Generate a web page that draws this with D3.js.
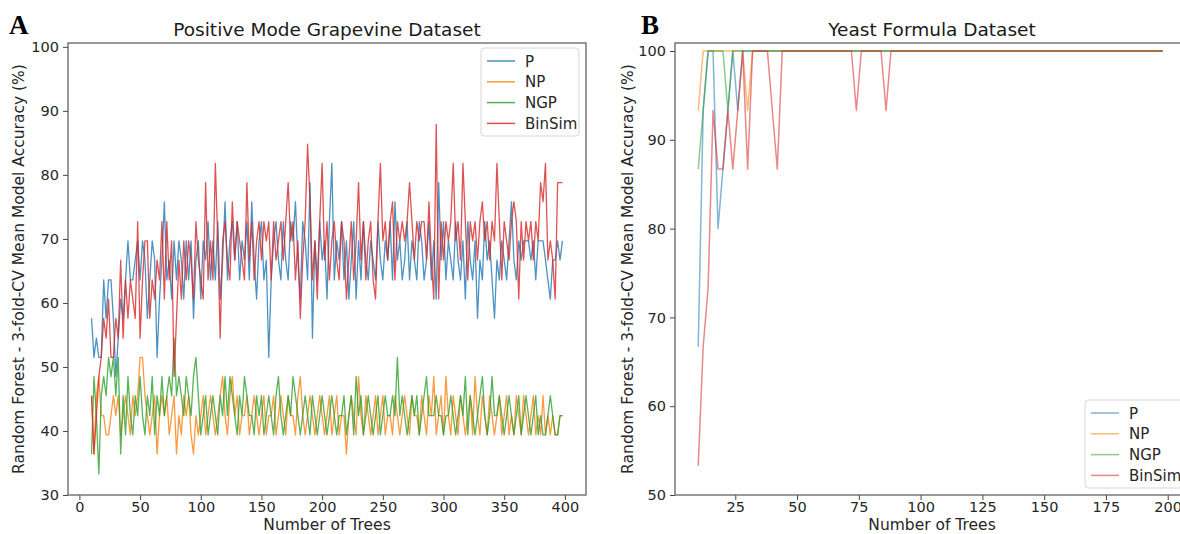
<!DOCTYPE html>
<html><head><meta charset="utf-8">
<script src="https://cdn.jsdelivr.net/npm/d3@7"></script>
<style>body{margin:0;background:#fff}svg{display:block}</style>
</head><body>
<svg id="c" width="1180" height="534"></svg>
<script>
const seriesNames = ["P","NP","NGP","BinSim"];
const colors = ["#1f77b4","#ff7f0e","#2ca02c","#d62728"];

// Panel A: Positive Mode Grapevine Dataset, trees 10..398 step 2
const treesA = [];
for (let t = 10; t <= 398; t += 2) treesA.push(t);
const A_P = [
57.6,51.5,54.5,51.5,51.5,63.6,57.6,63.6,63.6,57.6,
48.5,54.5,60.6,57.6,63.6,69.7,63.6,63.6,66.7,69.7,
63.6,69.7,66.7,57.6,63.6,69.7,66.7,51.5,60.6,66.7,
75.8,63.6,66.7,60.6,69.7,63.6,69.7,66.7,60.6,69.7,
63.6,69.7,57.6,66.7,69.7,60.6,69.7,66.7,72.7,63.6,
69.7,63.6,72.7,60.6,66.7,75.8,63.6,69.7,72.7,66.7,
72.7,63.6,69.7,66.7,72.7,63.6,75.8,66.7,60.6,69.7,
72.7,63.6,66.7,51.5,63.6,69.7,72.7,66.7,63.6,72.7,
66.7,63.6,72.7,69.7,75.8,66.7,60.6,72.7,69.7,63.6,
78.8,54.5,69.7,63.6,72.7,66.7,69.7,60.6,72.7,81.8,
63.6,69.7,66.7,72.7,63.6,69.7,60.6,66.7,72.7,60.6,
69.7,63.6,72.7,66.7,63.6,69.7,66.7,63.6,72.7,66.7,
63.6,69.7,66.7,72.7,63.6,75.8,66.7,69.7,63.6,66.7,
72.7,63.6,69.7,66.7,63.6,72.7,69.7,63.6,66.7,72.7,
63.6,69.7,60.6,78.8,66.7,72.7,63.6,69.7,66.7,63.6,
72.7,66.7,63.6,69.7,60.6,72.7,66.7,63.6,69.7,57.6,
66.7,63.6,72.7,66.7,69.7,63.6,57.6,66.7,63.6,69.7,
66.7,63.6,69.7,75.8,66.7,63.6,69.7,66.7,69.7,69.7,
69.7,66.7,69.7,63.6,69.7,69.7,69.7,66.7,63.6,60.6,
66.7,66.7,69.7,66.7,69.7];
const A_NP = [
45.5,36.4,45.5,48.5,42.4,42.4,39.4,39.4,42.4,45.5,
42.4,45.5,39.4,42.4,45.5,42.4,39.4,45.5,42.4,45.5,
51.5,51.5,45.5,42.4,39.4,42.4,45.5,36.4,42.4,45.5,
42.4,45.5,39.4,42.4,45.5,36.4,42.4,39.4,45.5,42.4,
45.5,39.4,36.4,42.4,39.4,42.4,45.5,39.4,42.4,45.5,
42.4,39.4,42.4,45.5,48.5,42.4,39.4,45.5,48.5,42.4,
45.5,39.4,42.4,42.4,45.5,39.4,42.4,45.5,42.4,39.4,
42.4,45.5,39.4,42.4,42.4,45.5,39.4,42.4,45.5,42.4,
39.4,45.5,42.4,42.4,39.4,45.5,48.5,42.4,39.4,42.4,
45.5,42.4,39.4,42.4,45.5,42.4,39.4,42.4,45.5,39.4,
42.4,45.5,39.4,42.4,42.4,36.4,42.4,45.5,42.4,39.4,
48.5,42.4,39.4,45.5,42.4,39.4,42.4,45.5,39.4,42.4,
45.5,39.4,42.4,42.4,39.4,45.5,42.4,39.4,42.4,45.5,
42.4,39.4,45.5,42.4,42.4,39.4,45.5,42.4,39.4,45.5,
42.4,48.5,39.4,42.4,45.5,39.4,48.5,42.4,39.4,45.5,
42.4,39.4,45.5,42.4,39.4,42.4,45.5,39.4,48.5,42.4,
39.4,45.5,42.4,39.4,45.5,42.4,39.4,42.4,45.5,39.4,
42.4,45.5,39.4,42.4,39.4,45.5,42.4,39.4,45.5,42.4,
39.4,42.4,45.5,39.4,42.4,39.4,45.5,39.4,42.4,39.4,
42.4,39.4,39.4,42.4,42.4];
const A_NGP = [
36.4,48.5,42.4,33.3,45.5,48.5,45.5,51.5,48.5,51.5,
45.5,51.5,36.4,45.5,39.4,48.5,42.4,39.4,45.5,42.4,
48.5,42.4,39.4,45.5,42.4,48.5,39.4,45.5,42.4,48.5,
42.4,45.5,48.5,45.5,54.5,45.5,48.5,45.5,42.4,48.5,
45.5,42.4,48.5,51.5,45.5,39.4,42.4,45.5,39.4,42.4,
45.5,42.4,39.4,45.5,42.4,48.5,42.4,48.5,45.5,42.4,
39.4,45.5,42.4,48.5,45.5,42.4,42.4,39.4,45.5,42.4,
45.5,39.4,42.4,45.5,42.4,39.4,45.5,48.5,42.4,39.4,
42.4,45.5,42.4,48.5,45.5,42.4,39.4,42.4,45.5,42.4,
39.4,45.5,42.4,39.4,42.4,45.5,42.4,39.4,42.4,45.5,
42.4,39.4,42.4,42.4,45.5,39.4,42.4,45.5,39.4,48.5,
42.4,45.5,39.4,42.4,45.5,42.4,39.4,42.4,45.5,39.4,
42.4,45.5,42.4,42.4,45.5,42.4,51.5,42.4,45.5,42.4,
39.4,42.4,45.5,42.4,45.5,39.4,42.4,45.5,48.5,42.4,
42.4,42.4,45.5,42.4,42.4,39.4,42.4,42.4,45.5,42.4,
39.4,42.4,45.5,42.4,48.5,39.4,45.5,42.4,39.4,42.4,
45.5,48.5,42.4,39.4,42.4,48.5,42.4,42.4,45.5,42.4,
39.4,42.4,45.5,42.4,39.4,42.4,45.5,39.4,42.4,45.5,
42.4,39.4,42.4,45.5,39.4,42.4,39.4,39.4,42.4,45.5,
42.4,39.4,39.4,42.4,42.4];
const A_BinSim = [
45.5,36.4,42.4,48.5,51.5,57.6,54.5,60.6,51.5,51.5,
57.6,54.5,66.7,54.5,63.6,57.6,63.6,60.6,57.6,72.7,
54.5,63.6,69.7,69.7,57.6,63.6,60.6,66.7,63.6,72.7,
60.6,72.7,63.6,69.7,48.5,57.6,66.7,60.6,69.7,63.6,
69.7,66.7,60.6,72.7,66.7,63.6,60.6,78.8,63.6,69.7,
63.6,81.8,69.7,54.5,69.7,72.7,66.7,63.6,75.8,66.7,
72.7,69.7,66.7,63.6,78.8,66.7,72.7,63.6,69.7,72.7,
66.7,72.7,69.7,72.7,63.6,72.7,66.7,69.7,72.7,66.7,
72.7,78.8,69.7,72.7,63.6,69.7,57.6,66.7,72.7,84.8,
75.8,63.6,69.7,60.6,72.7,81.8,66.7,72.7,63.6,69.7,
72.7,66.7,63.6,72.7,69.7,60.6,66.7,72.7,63.6,69.7,
78.8,66.7,72.7,63.6,69.7,72.7,63.6,60.6,72.7,81.8,
69.7,72.7,66.7,72.7,75.8,63.6,72.7,69.7,72.7,69.7,
72.7,78.8,72.7,66.7,72.7,69.7,72.7,72.7,66.7,75.8,
66.7,60.6,87.9,60.6,72.7,66.7,72.7,69.7,72.7,81.8,
69.7,72.7,66.7,81.8,72.7,63.6,72.7,69.7,72.7,66.7,
72.7,75.8,69.7,72.7,66.7,72.7,69.7,81.8,72.7,63.6,
72.7,69.7,66.7,72.7,75.8,72.7,60.6,72.7,66.7,72.7,
69.7,72.7,66.7,72.7,69.7,78.8,75.8,81.8,66.7,69.7,
66.7,60.6,78.8,78.8,78.8];

// Panel B: Yeast Formula Dataset, trees 10..198 step 2
const treesB = [];
for (let t = 10; t <= 198; t += 2) treesB.push(t);
const B_P = [
66.7,93.3,100,100,80,86.7,93.3,100,93.3,100,
100,100,100,100,100,100,100,100,100,100,
100,100,100,100,100,100,100,100,100,100,
100,100,100,100,100,100,100,100,100,100,
100,100,100,100,100,100,100,100,100,100,
100,100,100,100,100,100,100,100,100,100,
100,100,100,100,100,100,100,100,100,100,
100,100,100,100,100,100,100,100,100,100,
100,100,100,100,100,100,100,100,100,100,
100,100,100,100,100];
const B_NP = [
93.3,100,100,100,100,100,100,100,100,100,
93.3,100,100,100,100,100,100,100,100,100,
100,100,100,100,100,100,100,100,100,100,
100,100,100,100,100,100,100,100,100,100,
100,100,100,100,100,100,100,100,100,100,
100,100,100,100,100,100,100,100,100,100,
100,100,100,100,100,100,100,100,100,100,
100,100,100,100,100,100,100,100,100,100,
100,100,100,100,100,100,100,100,100,100,
100,100,100,100,100];
const B_NGP = [
86.7,93.3,100,100,100,100,93.3,100,100,100,
100,100,100,100,100,100,100,100,100,100,
100,100,100,100,100,100,100,100,100,100,
100,100,100,100,100,100,100,100,100,100,
100,100,100,100,100,100,100,100,100,100,
100,100,100,100,100,100,100,100,100,100,
100,100,100,100,100,100,100,100,100,100,
100,100,100,100,100,100,100,100,100,100,
100,100,100,100,100,100,100,100,100,100,
100,100,100,100,100];
const B_BinSim = [
53.3,66.7,73.3,93.3,86.7,86.7,93.3,86.7,93.3,100,
86.7,100,100,100,100,93.3,86.7,100,100,100,
100,100,100,100,100,100,100,100,100,100,
100,100,93.3,100,100,100,100,100,93.3,100,
100,100,100,100,100,100,100,100,100,100,
100,100,100,100,100,100,100,100,100,100,
100,100,100,100,100,100,100,100,100,100,
100,100,100,100,100,100,100,100,100,100,
100,100,100,100,100,100,100,100,100,100,
100,100,100,100,100];

const ticksAx = [0,50,100,150,200,250,300,350,400];
const ticksAy = [30,40,50,60,70,80,90,100];
const ticksBx = [25,50,75,100,125,150,175,200];
const ticksBy = [50,60,70,80,90,100];

const svg = d3.select("#c");
const FONT = "DejaVu Sans, sans-serif";

function panel(cfg) {
  const g = svg.append("g");
  const x = d3.scaleLinear().domain(cfg.xdom).range([cfg.L, cfg.R]);
  const y = d3.scaleLinear().domain(cfg.ydom).range([cfg.B, cfg.T]);
  const clipId = "clip" + cfg.id;
  svg.append("clipPath").attr("id", clipId).append("rect")
    .attr("x", cfg.L).attr("y", cfg.T).attr("width", cfg.R - cfg.L).attr("height", cfg.B - cfg.T);

  const ax = g.append("g").attr("transform", `translate(0,${cfg.B})`)
    .call(d3.axisBottom(x).tickValues(cfg.xt).tickSize(5).tickPadding(2).tickFormat(d3.format("d")));
  const ay = g.append("g").attr("transform", `translate(${cfg.L},0)`)
    .call(d3.axisLeft(y).tickValues(cfg.yt).tickSize(5).tickPadding(4).tickFormat(d3.format("d")));
  [ax, ay].forEach(a => {
    a.select(".domain").remove();
    a.selectAll("line").attr("stroke", "#444");
    a.selectAll("text").attr("font-family", FONT).attr("font-size", 14.5).attr("fill", "#262626");
  });

  const line = d3.line().x((d, i) => x(cfg.xs[i])).y(d => y(d));
  const lg = g.append("g").attr("clip-path", `url(#${clipId})`);
  cfg.data.forEach((arr, k) => {
    lg.append("path").datum(arr).attr("d", line).attr("fill", "none")
      .attr("stroke", colors[k]).attr("stroke-width", cfg.lw).attr("stroke-opacity", cfg.op)
      .attr("stroke-linejoin", "round");
  });

  g.append("rect").attr("x", cfg.L).attr("y", cfg.T).attr("width", cfg.R - cfg.L).attr("height", cfg.B - cfg.T)
    .attr("fill", "none").attr("stroke", "#555").attr("stroke-width", 1.2);

  g.append("text").attr("x", cfg.titleX).attr("y", 36).attr("text-anchor", "middle")
    .attr("font-family", FONT).attr("font-size", 18.5).attr("fill", "#1a1a1a").text(cfg.title);
  g.append("text").attr("x", cfg.letterX).attr("y", 34)
    .attr("font-family", "Liberation Serif, Times New Roman, serif").attr("font-weight", "bold")
    .attr("font-size", 27).attr("fill", "#000").text(cfg.letter);
  g.append("text").attr("x", cfg.titleX).attr("y", 529.5).attr("text-anchor", "middle")
    .attr("font-family", FONT).attr("font-size", 15.5).attr("fill", "#262626").text("Number of Trees");
  g.append("text").attr("transform", `translate(${cfg.ylabX},${(cfg.T + cfg.B) / 2}) rotate(-90)`)
    .attr("text-anchor", "middle").attr("font-family", FONT).attr("font-size", 15.5).attr("fill", "#262626")
    .text("Random Forest - 3-fold-CV Mean Model Accuracy (%)");

  const lgd = g.append("g");
  lgd.append("rect").attr("x", cfg.lgX).attr("y", cfg.lgY).attr("width", cfg.lgW).attr("height", 88)
    .attr("rx", 3).attr("fill", "#fff").attr("fill-opacity", 0.85).attr("stroke", "#d6d6d6");
  seriesNames.forEach((n, k) => {
    const yy = cfg.lgY + 13 + k * 20.8;
    lgd.append("line").attr("x1", cfg.lgX + 6).attr("x2", cfg.lgX + 34).attr("y1", yy).attr("y2", yy)
      .attr("stroke", colors[k]).attr("stroke-width", 1.5).attr("stroke-opacity", cfg.op);
    lgd.append("text").attr("x", cfg.lgX + 44).attr("y", yy + 5.5)
      .attr("font-family", FONT).attr("font-size", 15).attr("fill", "#262626").text(n);
  });
}

panel({id: "A", L: 68, R: 586, T: 43, B: 495, xdom: [-9.4, 417.4], ydom: [30, 100.6],
  xt: ticksAx, yt: ticksAy, xs: treesA, data: [A_P, A_NP, A_NGP, A_BinSim], lw: 1.3, op: 0.8,
  title: "Positive Mode Grapevine Dataset", titleX: 327, letter: "A", letterX: 9, ylabX: 24,
  lgX: 481, lgY: 48, lgW: 98});
panel({id: "B", L: 675, R: 1186, T: 43, B: 495, xdom: [0.6, 207.4], ydom: [50, 100.9],
  xt: ticksBx, yt: ticksBy, xs: treesB, data: [B_P, B_NP, B_NGP, B_BinSim], lw: 1.5, op: 0.55,
  title: "Yeast Formula Dataset", titleX: 932, letter: "B", letterX: 641, ylabX: 633,
  lgX: 1085, lgY: 400, lgW: 100});
</script>
</body></html>
